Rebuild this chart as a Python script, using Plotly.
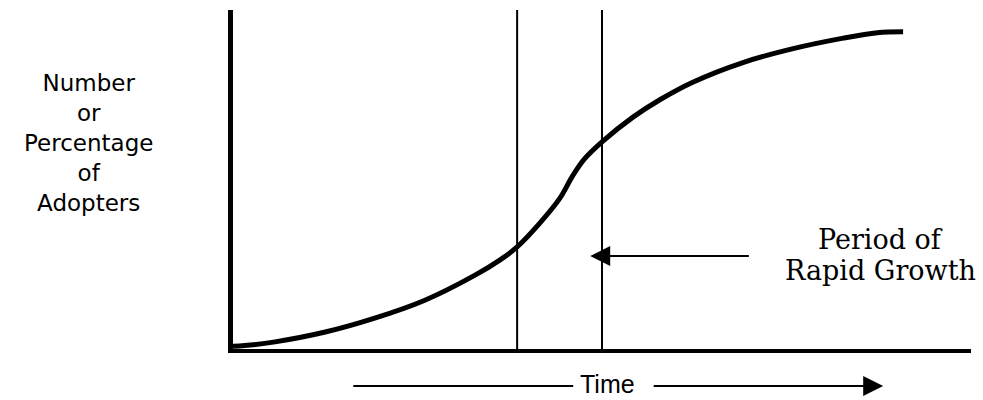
import plotly.graph_objects as go

# ---- data ----
time_pts = [0.0, 1.6, 5.7, 12.5, 19.2, 26.0, 32.8, 36.2, 38.5, 41.6, 44.3, 46.0,
            47.6, 50.0, 54.2, 57.9, 62.3, 69.1, 75.9, 82.7, 87.3, 90.8]
adopters = [0.8, 1.0, 2.1, 5.0, 9.1, 14.4, 21.8, 26.3, 30.1, 37.2, 44.5, 51.0,
            56.0, 61.1, 68.4, 73.6, 78.7, 84.5, 88.6, 91.7, 93.3, 93.6]
rapid_start = 38.5
rapid_end = 50.0
arrow_level = 27.4
arrow_tail = 70.1
y_label = "Number<br>or<br>Percentage<br>of<br>Adopters"
x_label = "Time"
note_lines = ["Period of", "Rapid Growth"]
note_x = 87.7
note_y = [32.2, 23.3]

fig = go.Figure()

# S-curve
fig.add_trace(go.Scatter(
    x=time_pts, y=adopters, mode="lines",
    line=dict(color="black", width=5, shape="spline", smoothing=1.0),
    hoverinfo="skip", showlegend=False,
))

# vertical boundaries of rapid growth period
for xv in (rapid_start, rapid_end):
    fig.add_trace(go.Scatter(
        x=[xv, xv], y=[0, 100], mode="lines",
        line=dict(color="black", width=2),
        hoverinfo="skip", showlegend=False,
    ))

# arrow pointing to the period
fig.add_annotation(
    x=rapid_end - 1.6, y=arrow_level, xref="x", yref="y",
    ax=arrow_tail, ay=arrow_level, axref="x", ayref="y",
    text="", showarrow=True, arrowhead=2, arrowsize=2, arrowwidth=2,
    arrowcolor="black", standoff=0,
)

for txt, yy in zip(note_lines, note_y):
    fig.add_annotation(
        x=note_x, y=yy, xref="x", yref="y", text=txt, showarrow=False,
        font=dict(family="DejaVu Serif", size=27, color="black"),
        xanchor="center", yanchor="middle",
    )

# y label
fig.add_annotation(
    x=-0.196, y=0.608, xref="paper", yref="paper", text=y_label,
    showarrow=False, align="center", xanchor="center", yanchor="middle",
    font=dict(family="DejaVu Sans", size=23, color="black"),
)

# Time arrow below the axis
fig.add_shape(type="line", xref="paper", yref="paper",
              x0=0.163, x1=0.461, y0=-0.109, y1=-0.109,
              line=dict(color="black", width=2))
fig.add_annotation(
    x=0.507, y=-0.103, xref="paper", yref="paper", text=x_label,
    showarrow=False, xanchor="center", yanchor="middle",
    font=dict(family="Liberation Sans", size=25, color="black"),
)
fig.add_annotation(
    x=0.881, y=-0.109, xref="paper", yref="paper",
    ax=-231, ay=0, text="", showarrow=True, arrowhead=2, arrowsize=2,
    arrowwidth=2, arrowcolor="black", standoff=0,
)

fig.update_layout(
    width=983, height=400,
    margin=dict(l=233, r=12, t=10, b=51),
    paper_bgcolor="white", plot_bgcolor="white",
    xaxis=dict(range=[0, 100], showline=True, linewidth=4, linecolor="black",
               showgrid=False, zeroline=False, showticklabels=False, ticks="",
               fixedrange=True),
    yaxis=dict(range=[0, 100], showline=True, linewidth=5, linecolor="black",
               showgrid=False, zeroline=False, showticklabels=False, ticks="",
               fixedrange=True),
    showlegend=False,
)

fig.write_html(
    "out.html",
    config={"displayModeBar": False},
    post_script="document.body.style.margin='0';document.body.style.overflow='hidden';",
)
